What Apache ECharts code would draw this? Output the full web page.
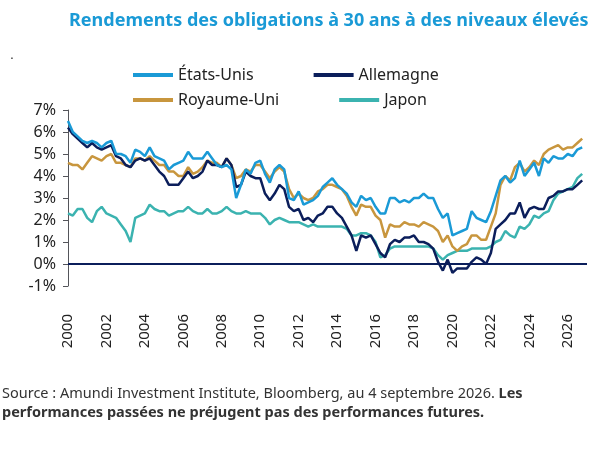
<!DOCTYPE html><html><head><meta charset="utf-8">
<script src="https://cdn.jsdelivr.net/npm/echarts@6/dist/echarts.min.js"></script>
<style>body{margin:0}#c{width:592px;height:450px}</style></head><body><div id="c"></div><script>
const startYear = 2000;
const us = [6.5,6.0,5.8,5.6, 5.5,5.6,5.5,5.3, 5.5,5.6,5.0,5.0, 4.9,4.6,5.2,5.1, 4.9,5.3,4.9,4.8, 4.7,4.3,4.5,4.6, 4.7,5.1,4.8,4.8, 4.8,5.1,4.8,4.5, 4.4,4.5,4.3,3.0, 3.6,4.3,4.1,4.6, 4.7,4.1,3.7,4.3, 4.5,4.3,3.0,2.9, 3.3,2.7,2.8,2.9, 3.1,3.5,3.7,3.9, 3.6,3.4,3.2,2.8, 2.6,3.1,2.9,3.0, 2.6,2.3,2.3,3.0, 3.0,2.8,2.9,2.8, 3.0,3.0,3.2,3.0, 3.0,2.5,2.1,2.3, 1.3,1.4,1.5,1.6, 2.4,2.1,2.0,1.9, 2.4,3.1,3.8,4.0, 3.7,3.9,4.7,4.0, 4.3,4.6,4.0,4.8, 4.6,4.9,4.8,4.8, 5.0,4.9,5.2,5.3];
const de = [6.2,5.9,5.7,5.5, 5.3,5.5,5.3,5.2, 5.3,5.4,4.9,4.8, 4.5,4.4,4.7,4.8, 4.7,4.8,4.5,4.2, 4.0,3.6,3.6,3.6, 3.9,4.2,3.9,4.0, 4.2,4.7,4.5,4.5, 4.4,4.8,4.5,3.5, 3.6,4.2,4.0,3.9, 3.9,3.2,2.9,3.2, 3.6,3.4,2.6,2.4, 2.5,2.0,2.1,1.9, 2.2,2.3,2.6,2.6, 2.3,2.1,1.7,1.3, 0.6,1.3,1.2,1.3, 0.9,0.5,0.3,0.9, 1.1,1.0,1.2,1.2, 1.3,1.0,1.0,0.9, 0.7,0.1,-0.3,0.2, -0.4,-0.2,-0.2,-0.2, 0.1,0.3,0.2,0.0, 0.5,1.6,1.8,2.0, 2.3,2.3,2.8,2.1, 2.5,2.6,2.5,2.5, 3.0,3.1,3.3,3.3, 3.4,3.4,3.6,3.8];
const uk = [4.6,4.5,4.5,4.3, 4.6,4.9,4.8,4.7, 4.9,5.0,4.6,4.6, 4.5,4.4,4.8,4.8, 4.7,4.9,4.7,4.5, 4.5,4.2,4.2,4.0, 4.0,4.4,4.1,4.2, 4.4,4.7,4.6,4.6, 4.4,4.8,4.5,3.9, 4.0,4.3,4.2,4.5, 4.5,4.2,3.9,4.2, 4.4,4.2,3.4,3.0, 3.2,3.0,2.9,3.0, 3.3,3.4,3.6,3.6, 3.5,3.4,3.1,2.6, 2.2,2.7,2.6,2.6, 2.2,2.0,1.2,1.8, 1.7,1.7,1.9,1.8, 1.8,1.7,1.9,1.8, 1.7,1.5,1.0,1.3, 0.8,0.6,0.8,0.9, 1.3,1.3,1.1,1.1, 1.7,2.3,3.6,4.0, 3.8,4.4,4.6,4.2, 4.4,4.7,4.5,5.0, 5.2,5.3,5.4,5.2, 5.3,5.3,5.5,5.7];
const jp = [2.3,2.2,2.5,2.5, 2.1,1.9,2.4,2.6, 2.3,2.2,2.1,1.8, 1.5,1.0,2.1,2.2, 2.3,2.7,2.5,2.4, 2.4,2.2,2.3,2.4, 2.4,2.6,2.4,2.3, 2.3,2.5,2.3,2.3, 2.4,2.6,2.4,2.3, 2.3,2.4,2.3,2.3, 2.3,2.1,1.8,2.0, 2.1,2.0,1.9,1.9, 1.9,1.8,1.7,1.8, 1.7,1.7,1.7,1.7, 1.7,1.7,1.6,1.3, 1.3,1.4,1.4,1.3, 1.0,0.3,0.4,0.7, 0.8,0.8,0.8,0.8, 0.8,0.8,0.8,0.8, 0.7,0.4,0.2,0.4, 0.5,0.6,0.6,0.6, 0.7,0.7,0.7,0.7, 0.8,1.0,1.1,1.5, 1.3,1.2,1.7,1.6, 1.8,2.2,2.1,2.3, 2.4,2.9,3.2,3.3, 3.4,3.5,3.9,4.1];
const names = ['États-Unis','Allemagne','Royaume-Uni','Japon'];
const colors = ['#1a9ad6','#0b1e5b','#c8963e','#3bb3b0'];
const all = [us,de,uk,jp];
const toXY = a => a.map((v,i)=>[startYear+i/4, v]);
const F = '"Noto Sans", sans-serif';
const series = all.map((a,k)=>({name:names[k],type:'line',data:toXY(a),showSymbol:false,
  lineStyle:{width:2.5,color:colors[k]},itemStyle:{color:colors[k]},z:[4,3,2,1][k]}));
series.push({type:'line',data:[],markLine:{silent:true,symbol:'none',label:{show:false},
  lineStyle:{color:'#0b1e5b',width:2,type:'solid'},data:[{yAxis:0}]}});
const leg = (d,top)=>({data:d,top:top,left:128,itemWidth:40,itemHeight:4,itemGap:60,icon:'rect',
  textStyle:{fontSize:16,color:'#222',fontFamily:F}});
echarts.init(document.getElementById('c')).setOption({
  animation:false,
  title:{text:'Rendements des obligations à 30 ans à des niveaux élevés',left:64,top:7,
    textStyle:{color:'#1a9ad6',fontSize:18,fontWeight:'bold',fontFamily:F}},
  legend:[leg(['États-Unis','Allemagne'],62),leg(['Royaume-Uni','Japon'],87)],
  grid:{left:68,right:5,top:110,bottom:164},
  xAxis:{type:'value',min:2000,max:2027,interval:2,splitLine:{show:false},axisLine:{show:false},axisTick:{show:false},
    axisLabel:{rotate:90,fontSize:15,color:'#222',fontFamily:F,formatter:v=>v%2===0&&v<2027?String(v):'' ,margin:28}},
  yAxis:{type:'value',min:-1,max:7,interval:1,splitLine:{show:false},
    axisLabel:{formatter:'{value}%',fontSize:16,color:'#222',fontFamily:F,margin:12}},
  series:series,
  graphic:[{type:'text',left:2,top:386,style:{rich:{a:{fontSize:14.5,fill:'#333',fontFamily:F,lineHeight:19},b:{fontSize:14.5,fill:'#333',fontWeight:'bold',fontFamily:F,lineHeight:19}},
    text:'{a|Source : Amundi Investment Institute, Bloomberg, au 4 septembre 2026. }{b|Les}\n{b|performances passées ne préjugent pas des performances futures.}'}},
    {type:'text',left:10,top:48,style:{text:'.',fontSize:14,fill:'#333'}}]
});
</script></body></html>
